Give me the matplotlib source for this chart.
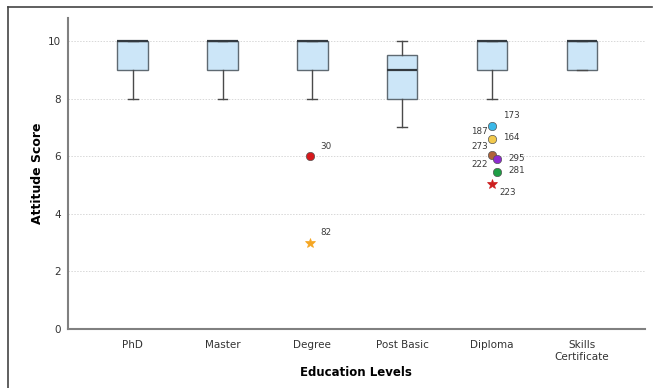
import matplotlib
matplotlib.use("Agg")
import matplotlib.pyplot as plt
from matplotlib.lines import Line2D

# Education levels and box summaries (attitude score)
categories = ["PhD", "Master", "Degree", "Post Basic", "Diploma", "Skills\nCertificate"]
q1 = [9, 9, 9, 8, 9, 9]
median = [10, 10, 10, 9, 10, 10]
q3 = [10, 10, 10, 9.5, 10, 10]
whisker_low = [8, 8, 8, 7, 8, 9]
whisker_high = [10, 10, 10, 10, 10, 10]

# Outlying respondents: category index, score, respondent id
outlier_cat = [2, 2, 4, 4, 4, 4, 4, 4]
outlier_x_shift = [-0.03, -0.03, 0, 0, 0, 0.06, 0.06, 0]
outlier_score = [6.0, 3.0, 7.05, 6.6, 6.05, 5.9, 5.45, 5.05]
outlier_marker = ["o", "*", "o", "o", "o", "o", "o", "*"]
outlier_color = ["#d7191c", "#f5a623", "#3bb8e8", "#f2c94c", "#b0643a",
                 "#8e2bd0", "#1f9e45", "#cc1f1f"]
outlier_ids = [["30"], ["82"], ["173"], ["187", "164"], ["273", "222"],
               ["295"], ["281"], ["223"]]
# label offsets in points for each id
label_offsets = [[(8, 4)], [(8, 4)], [(8, 4)], [(-15, 2), (8, -2)],
                 [(-15, 3), (-15, -10)], [(8, -3)], [(8, -2)], [(5, -10)]]

fig = plt.figure(figsize=(6.56, 3.88), dpi=100)
ax = fig.add_axes([0.1037, 0.152, 0.879, 0.802])

positions = list(range(len(categories)))
stats = []
for i in positions:
    stats.append(dict(med=median[i], q1=q1[i], q3=q3[i],
                      whislo=whisker_low[i], whishi=whisker_high[i], fliers=[]))

ax.bxp(stats, positions=positions, widths=0.34, capwidths=0.11,
       patch_artist=True, showfliers=False,
       boxprops=dict(facecolor="#cce6f8", edgecolor="#5f6a72", linewidth=1.0),
       medianprops=dict(color="#333a40", linewidth=1.6),
       whiskerprops=dict(color="#4a4a4a", linewidth=1.0),
       capprops=dict(color="#4a4a4a", linewidth=1.0))

for c, dx, s, m, col, ids, offs in zip(outlier_cat, outlier_x_shift, outlier_score,
                                       outlier_marker, outlier_color, outlier_ids,
                                       label_offsets):
    size = 7.5 if m == "*" else 6
    ax.plot(c + dx, s, marker=m, color=col, markersize=size,
            markeredgecolor=("#555555" if m == "o" else col), markeredgewidth=0.5,
            linestyle="none", zorder=4)
    for lab, (ox, oy) in zip(ids, offs):
        ax.annotate(lab, (c + dx, s), xytext=(ox, oy), textcoords="offset points",
                    fontsize=6.3, color="#3a3a3a", ha="left", va="bottom")

ax.set_xlim(-0.72, 5.7)
ax.set_ylim(0, 10.8)
ax.set_yticks([0, 2, 4, 6, 8, 10])
ax.set_xticks(positions)
ax.set_xticklabels(categories, fontsize=7.5, color="#333333")
ax.tick_params(axis="y", labelsize=7.5, labelcolor="#333333", length=0, pad=5)
ax.tick_params(axis="x", length=0, pad=8)
ax.yaxis.grid(True, linestyle=(0, (1.5, 1.5)), color="#d8d8d8", linewidth=0.7)
ax.set_axisbelow(True)

for side in ("top", "right"):
    ax.spines[side].set_visible(False)
for side in ("left", "bottom"):
    ax.spines[side].set_color("#808080")
    ax.spines[side].set_linewidth(1.5)

ax.set_ylabel("Attitude Score", fontsize=9, fontweight="bold", labelpad=3)
ax.set_xlabel("Education Levels", fontsize=8.5, fontweight="bold", labelpad=3)

# outer frame (left and top edges)
fig.add_artist(Line2D([8 / 656, 8 / 656], [0, 1 - 7 / 388], transform=fig.transFigure,
                      color="#444444", linewidth=1.2))
fig.add_artist(Line2D([8 / 656, 652 / 656], [1 - 7 / 388, 1 - 7 / 388],
                      transform=fig.transFigure, color="#444444", linewidth=1.2))

fig.savefig("out.png", dpi=100)
